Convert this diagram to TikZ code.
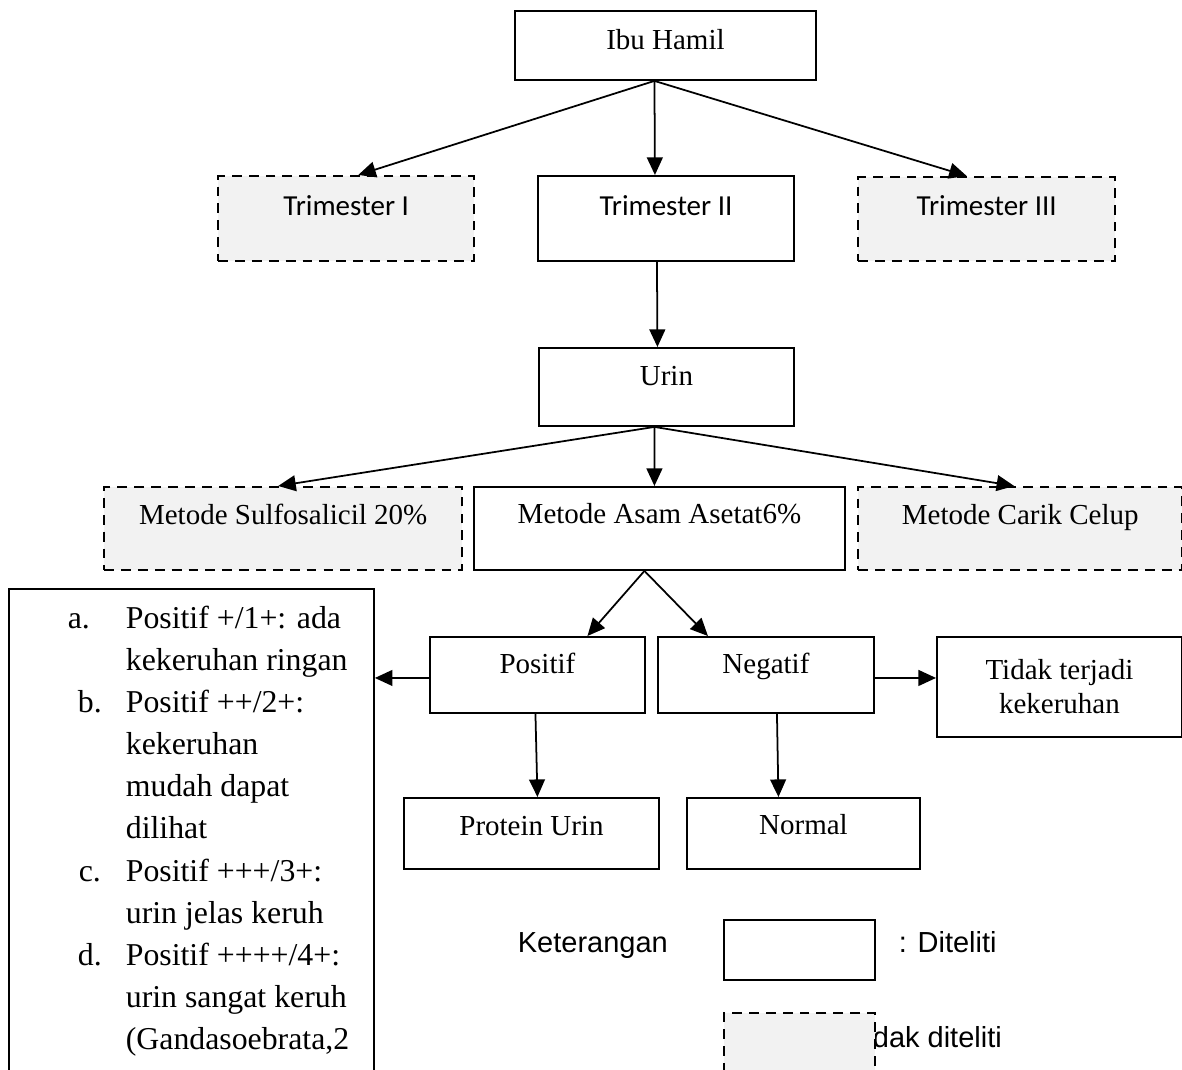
\documentclass[tikz,border=0pt]{standalone}
\usepackage{fontspec}
\setmainfont{Liberation Serif}
\newfontfamily\calibri{Carlito}
\newfontfamily\arial{Liberation Sans}
\usetikzlibrary{arrows.meta,calc}
\definecolor{boxgray}{HTML}{F2F2F2}
\tikzset{
  box/.style={draw, line width=1.1pt, inner sep=0pt, anchor=north west, font=\fontsize{16.5}{19.3}\selectfont},
  notbox/.style={box, fill=boxgray, line width=1.4pt, dash pattern=on 5.6pt off 4pt},
  trifont/.style={font=\calibri\fontsize{16.5}{19.3}\selectfont},
  legtext/.style={anchor=base west, inner sep=0pt, font=\arial\fontsize{16.5}{19.3}\selectfont}
}

\begin{document}
\begin{tikzpicture}[x=0.02cm, y=-0.02cm, >={Triangle[length=10pt,width=9pt]}, line width=1pt]
        \useasboundingbox (0,0) rectangle (1182,1070);
        \clip (0,0) rectangle (1182,1070);

        \node[box, minimum width=6.02cm, minimum height=1.38cm, text height=0.78cm, text depth=0.6cm] (ibu) at (514,10) {Ibu Hamil};

        \node[notbox, trifont, minimum width=5.12cm, minimum height=1.7cm, text height=0.78cm, text depth=0.92cm] (tri1) at (217,175) {Trimester I};
        \node[box, trifont, minimum width=5.12cm, minimum height=1.7cm, text height=0.8cm, text depth=0.9cm] (tri2) at (537,175) {Trimester II};
        \node[notbox, trifont, minimum width=5.14cm, minimum height=1.68cm, text height=0.76cm, text depth=0.92cm] (tri3) at (857,176) {Trimester III};

        \node[box, minimum width=5.1cm, minimum height=1.56cm, text height=0.76cm, text depth=0.8cm] (urin) at (538,347) {Urin};

        \node[notbox, minimum width=7.16cm, minimum height=1.66cm, text height=0.74cm, text depth=0.92cm] (sulfo) at (103,486) {Metode Sulfosalicil 20\%};
        \node[box, minimum width=7.42cm, minimum height=1.66cm, text height=0.74cm, text depth=0.92cm] (asam) at (473,486) {Metode Asam Asetat6\%};
        \node[notbox, minimum width=6.48cm, minimum height=1.66cm, text height=0.74cm, text depth=0.92cm] (carik) at (857,486) {Metode Carik Celup};

        \node[box, minimum width=4.3cm, minimum height=1.52cm, text height=0.74cm, text depth=0.78cm] (pos) at (429,636) {Positif};
        \node[box, minimum width=4.32cm, minimum height=1.52cm, text height=0.74cm, text depth=0.78cm] (neg) at (657,636) {Negatif};
        \node[box, minimum width=4.9cm, minimum height=2cm, align=center] (tidak) at (936,636) {Tidak terjadi\\kekeruhan};

        \node[box, minimum width=5.1cm, minimum height=1.42cm, text height=0.76cm, text depth=0.66cm] (protein) at (403,797) {Protein Urin};
        \node[box, minimum width=4.66cm, minimum height=1.42cm, text height=0.74cm, text depth=0.68cm] (normal) at (686,797) {Normal};

        \node[box, minimum width=7.3cm, minimum height=10.4cm] (crit) at (8,588) {};
        \node[anchor=base west, inner sep=0pt, font=\fontsize{18.1}{24}\selectfont] (critlist) at (67,628) {%
          \begin{tabular}[t]{@{}l@{}l@{}}
            \makebox[1.16cm][l]{a.} & Positif +/1+: ada\\
             & kekeruhan ringan\\
            \makebox[1.16cm][l]{\hspace*{0.2cm}b.} & Positif ++/2+:\\
             & kekeruhan\\
             & mudah dapat\\
             & dilihat\\
            \makebox[1.16cm][l]{\hspace*{0.22cm}c.} & Positif +++/3+:\\
             & urin jelas keruh\\
            \makebox[1.16cm][l]{\hspace*{0.2cm}d.} & Positif ++++/4+:\\
             & urin sangat keruh\\
             & (Gandasoebrata,2
          \end{tabular}};

        \draw[->] ($(ibu.south)+(-11,0)$) -- ($(tri1.north)+(12,0)$);
        \draw[->] ($(ibu.south)+(-11,0)$) -- ($(tri2.north)+(-11,0)$);
        \draw[->] ($(ibu.south)+(-11,0)$) -- ($(tri3.north)+(-20,0)$);
        \draw[->] ($(tri2.south)+(-9,0)$) -- ($(urin.north)+(-9,0)$);
        \draw[->] ($(urin.south)+(-12,0)$) -- ($(sulfo.north)+(-5,0)$);
        \draw[->] ($(urin.south)+(-12,0)$) -- ($(asam.north)+(-5,0)$);
        \draw[->] ($(urin.south)+(-12,0)$) -- ($(carik.north)+(-6,0)$);
        \draw[->] ($(asam.south)+(-15,0)$) -- ($(pos.north)+(50,0)$);
        \draw[->] ($(asam.south)+(-15,0)$) -- ($(neg.north)+(-58,0)$);
        \draw[->] ($(pos.south)+(-2,0)$) -- ($(protein.north)+(6,0)$);
        \draw[->] ($(neg.south)+(11,0)$) -- ($(normal.north)+(-25,0)$);
        \coordinate (posleft) at ($(pos.west)+(0,3)$);
        \coordinate (negright) at ($(neg.east)+(0,3)$);
        \draw[->] (posleft) -- (posleft -| crit.east);
        \draw[->] (negright) -- (negright -| tidak.west);

        \node[legtext] (ket) at (517,952) {Keterangan};
        \node[box, minimum width=3.02cm, minimum height=1.2cm] (legdone) at (723,919) {};
        \node[legtext] (legdonetext) at (898,952) {: Diteliti};
        \node[legtext] (legskiptext) at (872,1047) {dak diteliti};
        \node[notbox, minimum width=3.02cm, minimum height=1.4cm] (legskip) at (723,1012) {};
\end{tikzpicture}
\end{document}
